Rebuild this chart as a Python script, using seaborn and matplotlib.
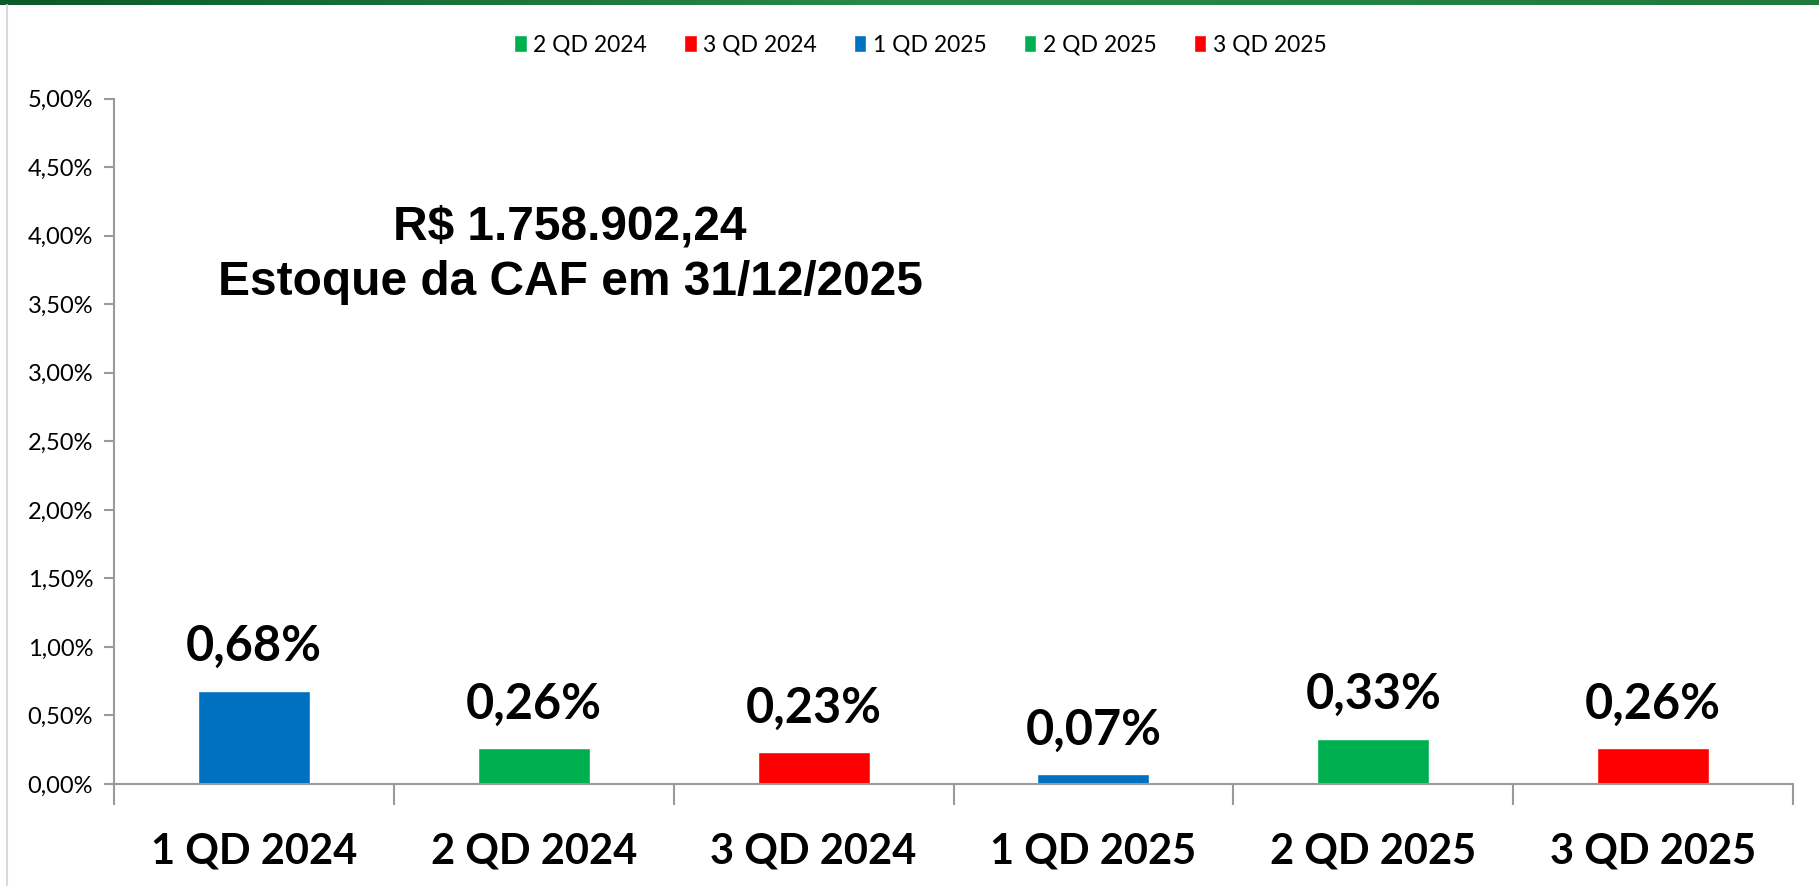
import numpy as np
import pandas as pd
import matplotlib
matplotlib.use('Agg')
import matplotlib.pyplot as plt
from matplotlib.lines import Line2D
import seaborn as sns

# dados
periodos = ['1 QD 2024', '2 QD 2024', '3 QD 2024', '1 QD 2025', '2 QD 2025', '3 QD 2025']
valores = [0.68, 0.26, 0.23, 0.07, 0.33, 0.26]
rotulos = ['0,68%', '0,26%', '0,23%', '0,07%', '0,33%', '0,26%']
cores = ['#0070C0', '#00B050', '#FF0000', '#0070C0', '#00B050', '#FF0000']
yticks = [0, 0.5, 1.0, 1.5, 2.0, 2.5, 3.0, 3.5, 4.0, 4.5, 5.0]
ytick_labels = ['0,00%', '0,50%', '1,00%', '1,50%', '2,00%', '2,50%',
                '3,00%', '3,50%', '4,00%', '4,50%', '5,00%']
titulo = 'R$ 1.758.902,24\nEstoque da CAF em 31/12/2025'

df = pd.DataFrame({'periodo': periodos, 'valor': valores})

sns.set_theme(style='white')
plt.rcParams['font.family'] = ['Lato', 'DejaVu Sans']
plt.rcParams['text.color'] = 'black'
plt.rcParams['xtick.labelcolor'] = 'black'
plt.rcParams['ytick.labelcolor'] = 'black'

fig = plt.figure(figsize=(18.19, 8.86), dpi=100)
ax = fig.add_axes([0.0627, 0.1151, 0.9230, 0.7736])

sns.barplot(data=df, x='periodo', y='valor', hue='periodo', palette=cores,
            dodge=False, width=0.40, saturation=1, legend=True, ax=ax)

# rotulos de valor
for i, (v, r) in enumerate(zip(valores, rotulos)):
    ax.text(i, v + 0.16, r, ha='center', va='bottom', fontsize=35,
            fontweight='bold', color='black')

ax.set_ylim(0, 5)
ax.set_xlim(-0.5, 5.5)
ax.set_yticks(yticks)
ax.set_yticklabels(ytick_labels, fontsize=17)
ax.set_xticks(range(len(periodos)))
ax.set_xticklabels(periodos, fontsize=30, fontweight='bold')
ax.set_xticks(np.arange(-0.5, 6.0, 1.0), minor=True)
ax.tick_params(axis='x', which='major', length=0, pad=35, bottom=True)
ax.tick_params(axis='x', which='minor', length=15, width=1.5, color='#9a9a9a',
               direction='out', bottom=True)
ax.tick_params(axis='y', length=7, width=1.5, color='#9a9a9a', direction='out', pad=8, left=True)
ax.set_xlabel('')
ax.set_ylabel('')

for s in ['top', 'right']:
    ax.spines[s].set_visible(False)
for s in ['left', 'bottom']:
    ax.spines[s].set_color('#9a9a9a')
    ax.spines[s].set_linewidth(1.5)

# legenda (sem o primeiro item, como no original)
handles, labels = ax.get_legend_handles_labels()
ax.legend(handles[1:], labels[1:], loc='center', bbox_to_anchor=(0.506, 0.949),
          bbox_transform=fig.transFigure, ncol=5, frameon=False, fontsize=16.5,
          handlelength=0.55, handleheight=0.8, handletextpad=0.3, columnspacing=1.6)

# texto central
ax.text(1.13, 3.86, titulo, ha='center', va='center', fontsize=34.5,
        fontweight='bold', family='Liberation Sans', linespacing=1.3, color='black')

# faixa verde no topo e borda lateral
gax = fig.add_axes([0, 0.994, 1, 0.006])
grad = np.linspace(0, 1, 256).reshape(1, -1)
gax.imshow(grad, aspect='auto', cmap=matplotlib.colors.LinearSegmentedColormap.from_list(
    'g', ['#0b5a2a', '#2a8a48', '#1f7a3c']))
gax.axis('off')
fig.add_artist(Line2D([0.004, 0.004], [0, 0.994], transform=fig.transFigure,
                      color='#d9d9d9', lw=1.5))

plt.savefig('out.png', dpi=100)
